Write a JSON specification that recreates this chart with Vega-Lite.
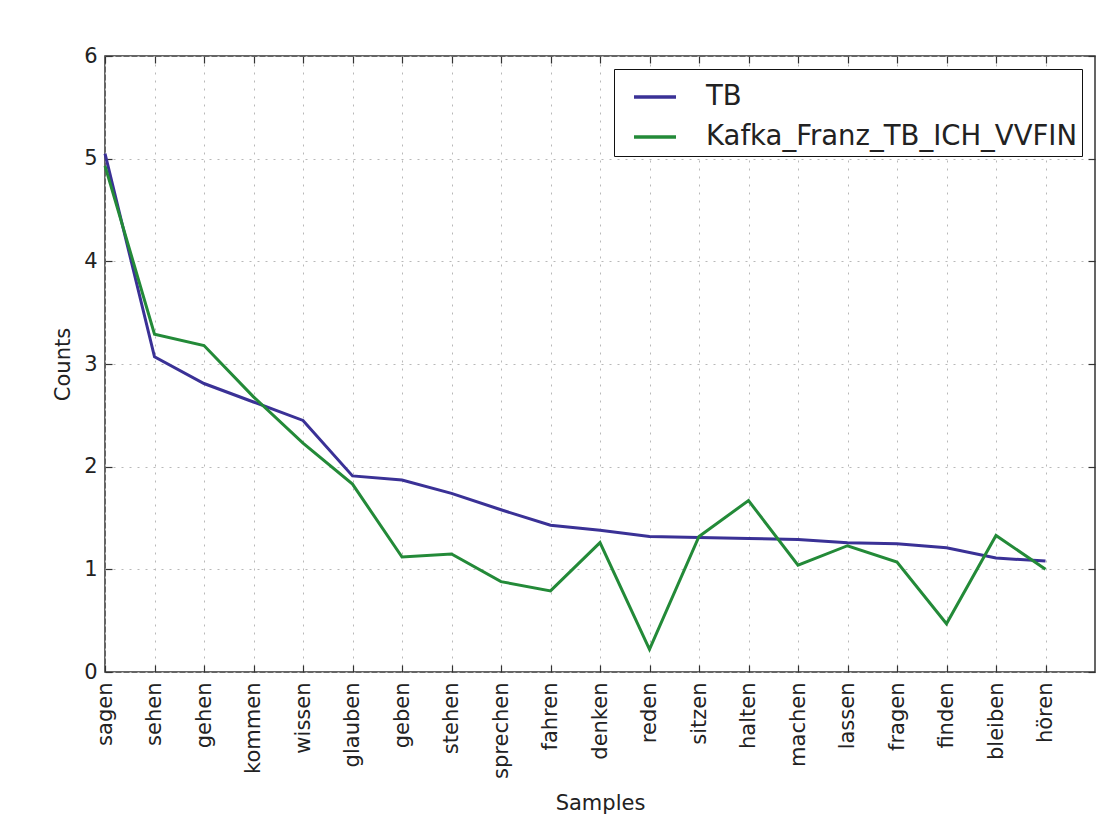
{
  "$schema": "https://vega.github.io/schema/vega-lite/v6.json",
  "width": 990,
  "height": 616,
  "autosize": {"type": "none"},
  "padding": {"left": 105, "top": 56, "right": 4, "bottom": 151},
  "background": "white",
  "config": {
    "font": "DejaVu Sans",
    "view": {"stroke": "#333333", "strokeWidth": 1.5},
    "axis": {
      "labelFont": "DejaVu Sans",
      "labelFontSize": 21,
      "labelColor": "#222222",
      "titleFont": "DejaVu Sans",
      "titleFontSize": 21,
      "titleFontWeight": "normal",
      "titleColor": "#222222",
      "tickColor": "#333333",
      "tickWidth": 1.2,
      "tickSize": -7,
      "domain": false,
      "gridColor": "#b8b8b8",
      "gridDash": [2, 6],
      "gridWidth": 1
    }
  },
  "data": {
    "values": [
      {"sample": "sagen", "series": "TB", "count": 5.05},
      {"sample": "sehen", "series": "TB", "count": 3.07},
      {"sample": "gehen", "series": "TB", "count": 2.81},
      {"sample": "kommen", "series": "TB", "count": 2.63},
      {"sample": "wissen", "series": "TB", "count": 2.45},
      {"sample": "glauben", "series": "TB", "count": 1.91},
      {"sample": "geben", "series": "TB", "count": 1.87},
      {"sample": "stehen", "series": "TB", "count": 1.74},
      {"sample": "sprechen", "series": "TB", "count": 1.58},
      {"sample": "fahren", "series": "TB", "count": 1.43},
      {"sample": "denken", "series": "TB", "count": 1.38},
      {"sample": "reden", "series": "TB", "count": 1.32},
      {"sample": "sitzen", "series": "TB", "count": 1.31},
      {"sample": "halten", "series": "TB", "count": 1.30},
      {"sample": "machen", "series": "TB", "count": 1.29},
      {"sample": "lassen", "series": "TB", "count": 1.26},
      {"sample": "fragen", "series": "TB", "count": 1.25},
      {"sample": "finden", "series": "TB", "count": 1.21},
      {"sample": "bleiben", "series": "TB", "count": 1.11},
      {"sample": "hören", "series": "TB", "count": 1.08},
      {"sample": "sagen", "series": "Kafka_Franz_TB_ICH_VVFIN", "count": 4.93},
      {"sample": "sehen", "series": "Kafka_Franz_TB_ICH_VVFIN", "count": 3.29},
      {"sample": "gehen", "series": "Kafka_Franz_TB_ICH_VVFIN", "count": 3.18},
      {"sample": "kommen", "series": "Kafka_Franz_TB_ICH_VVFIN", "count": 2.68},
      {"sample": "wissen", "series": "Kafka_Franz_TB_ICH_VVFIN", "count": 2.23},
      {"sample": "glauben", "series": "Kafka_Franz_TB_ICH_VVFIN", "count": 1.83},
      {"sample": "geben", "series": "Kafka_Franz_TB_ICH_VVFIN", "count": 1.12},
      {"sample": "stehen", "series": "Kafka_Franz_TB_ICH_VVFIN", "count": 1.15},
      {"sample": "sprechen", "series": "Kafka_Franz_TB_ICH_VVFIN", "count": 0.88},
      {"sample": "fahren", "series": "Kafka_Franz_TB_ICH_VVFIN", "count": 0.79},
      {"sample": "denken", "series": "Kafka_Franz_TB_ICH_VVFIN", "count": 1.26},
      {"sample": "reden", "series": "Kafka_Franz_TB_ICH_VVFIN", "count": 0.22},
      {"sample": "sitzen", "series": "Kafka_Franz_TB_ICH_VVFIN", "count": 1.32},
      {"sample": "halten", "series": "Kafka_Franz_TB_ICH_VVFIN", "count": 1.67},
      {"sample": "machen", "series": "Kafka_Franz_TB_ICH_VVFIN", "count": 1.04},
      {"sample": "lassen", "series": "Kafka_Franz_TB_ICH_VVFIN", "count": 1.23},
      {"sample": "fragen", "series": "Kafka_Franz_TB_ICH_VVFIN", "count": 1.07},
      {"sample": "finden", "series": "Kafka_Franz_TB_ICH_VVFIN", "count": 0.47},
      {"sample": "bleiben", "series": "Kafka_Franz_TB_ICH_VVFIN", "count": 1.33},
      {"sample": "hören", "series": "Kafka_Franz_TB_ICH_VVFIN", "count": 1.00}
    ]
  },
  "layer": [
    {
      "mark": {"type": "line", "strokeWidth": 3},
      "encoding": {
        "x": {
          "field": "sample",
          "type": "nominal",
          "sort": null,
          "scale": {"type": "point", "padding": 0.5, "align": 0},
          "axis": {
            "orient": "bottom",
            "title": "Samples",
            "labelAngle": 270,
            "labelPadding": 17,
            "titlePadding": 14,
            "grid": true
          }
        },
        "y": {
          "field": "count",
          "type": "quantitative",
          "scale": {"domain": [0, 6], "nice": false},
          "axis": {
            "orient": "left",
            "title": "Counts",
            "values": [0, 1, 2, 3, 4, 5, 6],
            "labelPadding": 15,
            "titlePadding": 10,
            "grid": true
          }
        },
        "color": {
          "field": "series",
          "type": "nominal",
          "sort": ["TB", "Kafka_Franz_TB_ICH_VVFIN"],
          "scale": {"range": ["#3a3196", "#238a38"]},
          "legend": {
            "title": null,
            "orient": "top-right",
            "offset": 13,
            "fillColor": "white",
            "strokeColor": "#111111",
            "padding": 5,
            "cornerRadius": 0,
            "labelFont": "DejaVu Sans",
            "labelFontSize": 27.5,
            "labelColor": "#222222",
            "labelLimit": 600,
            "labelOffset": 28,
            "symbolType": "stroke",
            "symbolSize": 1764,
            "symbolStrokeWidth": 3.5,
            "symbolOffset": 13,
            "rowPadding": 3
          }
        }
      }
    },
    {
      "mark": {"type": "line", "opacity": 0},
      "encoding": {
        "x": {
          "field": "sample",
          "type": "nominal",
          "sort": null,
          "axis": {"orient": "top", "title": null, "labels": false, "grid": false}
        },
        "y": {
          "field": "count",
          "type": "quantitative",
          "axis": {"orient": "right", "title": null, "labels": false, "grid": false, "values": [0, 1, 2, 3, 4, 5, 6]}
        }
      }
    }
  ],
  "resolve": {"axis": {"x": "independent", "y": "independent"}}
}
